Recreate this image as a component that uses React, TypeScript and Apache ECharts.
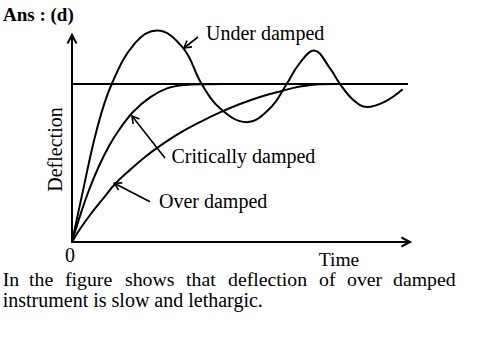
import { useEffect, useRef } from "react";
import * as echarts from "echarts";

// Data in normalised units: x = time (0..10), y = deflection (steady state = 1)
const steadyState: [number, number][] = [[0, 1], [9.94, 1]];
const underDamped: [number, number][] = [
  [0, 0], [0.287, 0.287], [0.731, 0.709], [1.175, 1.0], [1.864, 1.259], [2.515, 1.339],
  [3.284, 1.228], [3.837, 1.0], [4.379, 0.846], [5.169, 0.758], [5.858, 0.846], [6.352, 1.0],
  [6.695, 1.12], [7.16, 1.212], [7.633, 1.099], [7.929, 1.0], [8.322, 0.899], [8.728, 0.854],
  [9.26, 0.888], [9.784, 0.966],
];
const criticallyDamped: [number, number][] = [
  [0, 0], [0.237, 0.165], [0.503, 0.329], [0.799, 0.481], [1.095, 0.608], [1.391, 0.709],
  [1.805, 0.823], [2.308, 0.915], [2.811, 0.972], [3.343, 0.994], [3.935, 0.999], [4.527, 1.0],
];
const overDamped: [number, number][] = [
  [0, 0], [0.237, 0.082], [0.533, 0.171], [0.888, 0.266], [1.272, 0.367], [1.716, 0.456],
  [2.16, 0.538], [2.604, 0.608], [3.195, 0.69], [3.787, 0.759], [4.379, 0.82], [4.97, 0.873],
  [5.562, 0.918], [6.154, 0.953], [6.746, 0.984], [7.337, 0.999], [7.781, 1.0],
];
const seriesNames = ["Under damped", "Critically damped", "Over damped"];
const paragraphLine1 = ["In", "the", "figure", "shows", "that", "deflection", "of", "over", "damped"];
const paragraphLine2 = "instrument is slow and lethargic.";

const FONT = '"Liberation Serif", "Times New Roman", serif';

function chevron(tip: number[], tail: number[], len = 8, half = Math.PI / 6) {
  const a = Math.atan2(tail[1] - tip[1], tail[0] - tip[0]);
  return [
    [tip[0] + len * Math.cos(a + half), tip[1] + len * Math.sin(a + half)],
    tip,
    [tip[0] + len * Math.cos(a - half), tip[1] + len * Math.sin(a - half)],
  ];
}

function arrow(tip: number[], tail: number[]) {
  return [
    { type: "line", shape: { x1: tail[0], y1: tail[1], x2: tip[0], y2: tip[1] }, style: { stroke: "#000", lineWidth: 1.6 } },
    { type: "polyline", shape: { points: chevron(tip, tail, 8) }, style: { stroke: "#000", fill: null, lineWidth: 1.6 } },
  ];
}

function txt(text: string, x: number, y: number, size = 20, opts: any = {}) {
  return {
    type: "text",
    x,
    y,
    rotation: opts.rotation || 0,
    style: {
      text,
      fontSize: size,
      fontFamily: FONT,
      fontWeight: opts.bold ? "bold" : "normal",
      fill: "#000",
      textAlign: opts.align || "left",
      align: opts.align || "left",
      textVerticalAlign: "middle",
      verticalAlign: "middle",
    },
  };
}

const wordX = [2.7, 29, 65, 125, 186, 228, 319, 347, 393];

export default function App() {
  const ref = useRef<HTMLDivElement>(null);
  useEffect(() => {
    document.body.style.margin = "0";
    const chart = echarts.init(ref.current!, null, { renderer: "svg" });
    const lineBase = {
      type: "line",
      symbol: "none",
      showSymbol: false,
      smooth: 0.4,
      clip: false,
      lineStyle: { color: "#000", width: 2 },
    };
    const axisCommon = {
      type: "value",
      axisLine: { show: true, onZero: false, lineStyle: { color: "#000", width: 2 } },
      axisTick: { show: false },
      axisLabel: { show: false },
      splitLine: { show: false },
    };
    chart.setOption({
      animation: false,
      backgroundColor: "#fff",
      grid: { left: 72, right: 84, top: 35, bottom: 115 },
      xAxis: { ...axisCommon, min: 0, max: 10 },
      yAxis: { ...axisCommon, min: 0, max: 1.31 },
      series: [
        { ...lineBase, name: "Steady", data: steadyState, smooth: false },
        { ...lineBase, name: seriesNames[0], data: underDamped },
        { ...lineBase, name: seriesNames[1], data: criticallyDamped },
        { ...lineBase, name: seriesNames[2], data: overDamped },
      ],
      graphic: [
        // axis arrow heads
        { type: "polyline", shape: { points: [[67.5, 43.5], [72, 35], [76.5, 43.5]] }, style: { stroke: "#000", fill: null, lineWidth: 2 } },
        { type: "polyline", shape: { points: [[401.5, 237.5], [410, 242], [401.5, 246.5]] }, style: { stroke: "#000", fill: null, lineWidth: 2 } },
        // annotation arrows
        ...arrow([184, 48], [198, 37]),
        ...arrow([132, 116], [165, 158]),
        ...arrow([114.3, 183.3], [150, 201.7]),
        // texts
        txt("Ans : (d)", 3, 14, 19, { bold: true }),
        txt(seriesNames[0], 206, 33, 20),
        txt(seriesNames[1], 171.5, 156, 20),
        txt(seriesNames[2], 159, 201, 20),
        txt("Deflection", 55.3, 149.5, 20, { rotation: Math.PI / 2, align: "center" }),
        txt("0", 70, 255, 20, { align: "center" }),
        txt("Time", 339, 259, 19.5, { align: "center" }),
        ...paragraphLine1.map((w, i) => txt(w, wordX[i], 279, 19.8)),
        txt(paragraphLine2, 2.7, 300, 20),
      ],
    });
    return () => chart.dispose();
  }, []);
  return <div ref={ref} style={{ width: 494, height: 357 }} />;
}
